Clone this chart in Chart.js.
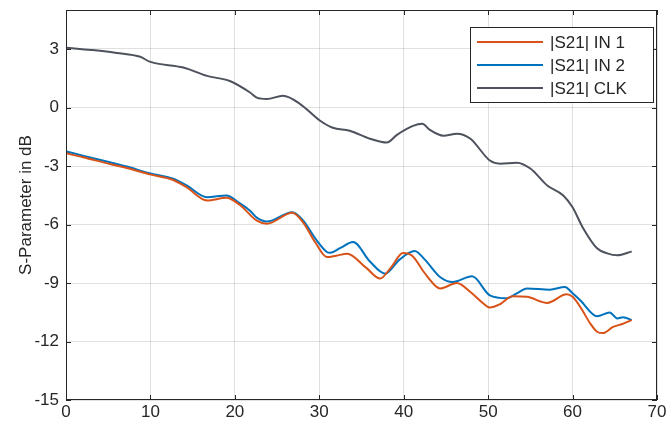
<!DOCTYPE html>
<html>
<head>
<meta charset="utf-8">
<script src="https://cdn.jsdelivr.net/npm/chart.js@4/dist/chart.umd.min.js"></script>
<style>
  html, body { margin: 0; padding: 0; background: #fff; }
  #wrap { width: 668px; height: 423px; }
</style>
</head>
<body>
<div id="wrap"><canvas id="myChart"></canvas></div>
<script>
// frequency (x) and |S21| in dB
const in1Freq = [0, 2, 5.2, 7.2, 9.9, 12.7, 14.3, 16.7, 19, 20.6, 22.6, 23.8, 26.8, 28.1, 29.5, 30.9, 32, 33.3, 35.5, 37.2, 38.5, 39.9, 41, 42.5, 43.9, 44.3, 46.3, 47.9, 49.4, 50.2, 51.4, 52.9, 54.6, 57, 59.3, 60, 60.9, 62.1, 62.9, 63.6, 64.8, 65.9, 67];
const in1Mag = [-2.35, -2.55, -2.9, -3.1, -3.43, -3.72, -4.1, -4.77, -4.63, -5.0, -5.8, -5.96, -5.4, -5.9, -6.9, -7.67, -7.6, -7.5, -8.2, -8.77, -8.2, -7.46, -7.6, -8.5, -9.2, -9.28, -9.0, -9.46, -10.04, -10.26, -10.09, -9.68, -9.71, -10.02, -9.58, -9.71, -10.22, -11.08, -11.5, -11.57, -11.25, -11.1, -10.9];

const in2Freq = [0, 2, 5.2, 7.2, 9.9, 12.7, 14.3, 16.7, 19, 20.6, 21.8, 22.6, 23.8, 26.8, 28.1, 29.5, 30.9, 31.3, 32.5, 34, 36, 37.8, 39.5, 41.3, 42.5, 44.3, 45.8, 48.1, 50.2, 52.2, 53.4, 54.6, 57.3, 59.1, 60, 60.9, 62.9, 64.4, 65.3, 66, 67];
const in2Mag = [-2.25, -2.47, -2.81, -3.03, -3.37, -3.65, -4.0, -4.6, -4.51, -4.92, -5.3, -5.65, -5.85, -5.37, -5.8, -6.7, -7.41, -7.45, -7.2, -6.9, -7.9, -8.52, -7.8, -7.36, -7.8, -8.69, -8.95, -8.66, -9.63, -9.78, -9.53, -9.28, -9.34, -9.2, -9.53, -9.88, -10.7, -10.51, -10.82, -10.75, -10.9];

const clkFreq = [0, 3, 6, 8.8, 9.9, 13.9, 16.7, 19.4, 21.8, 22.6, 23.8, 25.7, 27.7, 30.1, 31.6, 33.6, 36, 38, 39.2, 41.1, 42.2, 43.1, 44.7, 46.3, 47.9, 50.2, 51.4, 53.4, 55, 57, 58.9, 60, 61.2, 62.9, 64.1, 65.3, 67];
const clkMag = [3.07, 2.95, 2.8, 2.6, 2.35, 2.05, 1.62, 1.36, 0.77, 0.51, 0.44, 0.6, 0.19, -0.68, -1.04, -1.19, -1.6, -1.8, -1.4, -0.94, -0.83, -1.15, -1.45, -1.34, -1.6, -2.72, -2.88, -2.83, -3.13, -4.0, -4.51, -5.12, -6.15, -7.22, -7.48, -7.58, -7.38];

const seriesNames = ['|S21| IN 1', '|S21| IN 2', '|S21| CLK'];
const xTicks = [0, 70, 10];   // min, max, step
const yTicks = [-15, 5, 3];

const ink = '#262626';
const font = { family: 'Liberation Sans, Arial, sans-serif', size: 17 };

function pts(xs, ys) {
    return xs.map((x, i) => ({ x: x, y: ys[i] }));
}

// MATLAB style box, inward ticks and framed legend
const matlabBox = {
    id: 'matlabBox',
    afterDraw(chart) {
        const { ctx, chartArea: a, scales } = chart;
        ctx.save();
        ctx.strokeStyle = ink;
        ctx.lineWidth = 1;
        ctx.strokeRect(a.left + 0.5, a.top + 0.5, a.right - a.left - 1, a.bottom - a.top - 1);
        const t = 5;
        ctx.beginPath();
        scales.x.ticks.forEach(tk => {
            const px = Math.round(scales.x.getPixelForValue(tk.value)) + 0.5;
            ctx.moveTo(px, a.bottom); ctx.lineTo(px, a.bottom - t);
            ctx.moveTo(px, a.top); ctx.lineTo(px, a.top + t);
        });
        scales.y.ticks.forEach(tk => {
            const py = Math.round(scales.y.getPixelForValue(tk.value)) + 0.5;
            ctx.moveTo(a.left, py); ctx.lineTo(a.left + t, py);
            ctx.moveTo(a.right, py); ctx.lineTo(a.right - t, py);
        });
        ctx.stroke();

        // legend
        const lx = 470, ly = 27, lw = 183, lh = 75;
        ctx.fillStyle = '#fff';
        ctx.fillRect(lx, ly, lw, lh);
        ctx.strokeRect(lx + 0.5, ly + 0.5, lw, lh);
        ctx.font = font.size + 'px ' + font.family;
        ctx.textBaseline = 'middle';
        chart.data.datasets.forEach((ds, i) => {
            const y = ly + 15 + i * 23;
            ctx.strokeStyle = ds.borderColor;
            ctx.lineWidth = 2;
            ctx.beginPath();
            ctx.moveTo(lx + 7, y); ctx.lineTo(lx + 73, y);
            ctx.stroke();
            ctx.fillStyle = ink;
            ctx.fillText(ds.label, lx + 80, y + 1);
        });
        ctx.restore();
    }
};

const ctx = document.getElementById('myChart');

new Chart(ctx, {
    type: 'line',
    data: {
        datasets: [{
            label: seriesNames[0],
            data: pts(in1Freq, in1Mag),
            borderColor: '#D95319'
        }, {
            label: seriesNames[1],
            data: pts(in2Freq, in2Mag),
            borderColor: '#0072BD'
        }, {
            label: seriesNames[2],
            data: pts(clkFreq, clkMag),
            borderColor: '#4D525C'
        }]
    },
    options: {
        responsive: true,
        maintainAspectRatio: false,
        animation: false,
        layout: { padding: { top: 10, right: 11, bottom: 0, left: 0 } },
        elements: {
            point: { radius: 0 },
            line: { borderWidth: 2, cubicInterpolationMode: 'monotone' }
        },
        plugins: {
            legend: { display: false },
            tooltip: { enabled: false }
        },
        scales: {
            x: {
                type: 'linear',
                min: xTicks[0],
                max: xTicks[1],
                ticks: { stepSize: xTicks[2], color: ink, font: font, padding: 2, maxRotation: 0 },
                grid: { color: 'rgba(0,0,0,0.12)', drawTicks: false },
                border: { display: false },
                afterFit(scale) { scale.height = 23; scale.paddingLeft = 0; scale.paddingRight = 0; }
            },
            y: {
                min: yTicks[0],
                max: yTicks[1],
                ticks: { stepSize: yTicks[2], includeBounds: false, color: ink, font: font, padding: 7 },
                grid: { color: 'rgba(0,0,0,0.12)', drawTicks: false },
                border: { display: false },
                title: { display: true, text: 'S-Parameter in dB', color: ink, font: font, padding: { top: 16, bottom: 0 } },
                afterFit(scale) { scale.width = 66; scale.paddingTop = 0; scale.paddingBottom = 0; }
            }
        }
    },
    plugins: [matlabBox]
});
</script>
</body>
</html>
